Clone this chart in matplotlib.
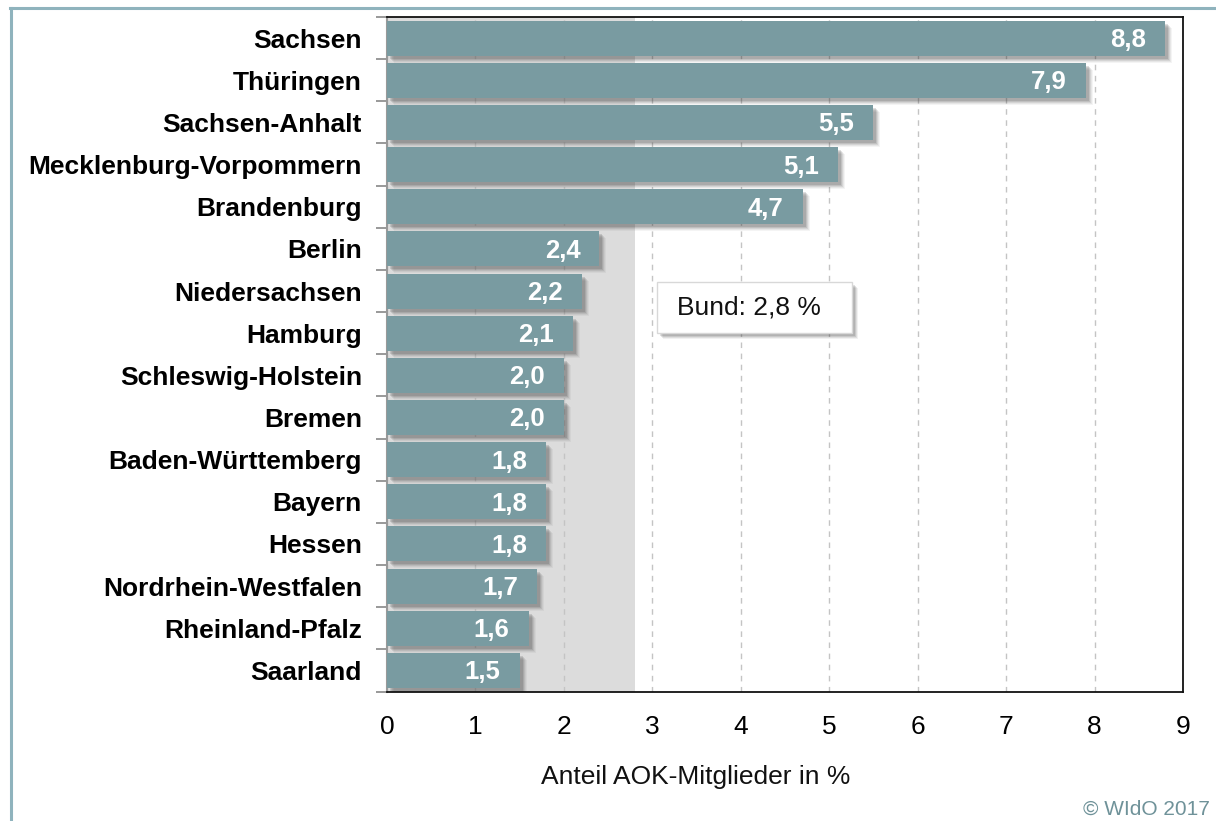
import matplotlib
matplotlib.use("Agg")
import matplotlib.pyplot as plt
from matplotlib.transforms import ScaledTranslation
from matplotlib.patches import Rectangle
from matplotlib.lines import Line2D

plt.rcParams['font.family'] = ['Liberation Sans', 'DejaVu Sans']

states = ["Sachsen", "Thüringen", "Sachsen-Anhalt", "Mecklenburg-Vorpommern",
          "Brandenburg", "Berlin", "Niedersachsen", "Hamburg", "Schleswig-Holstein",
          "Bremen", "Baden-Württemberg", "Bayern", "Hessen", "Nordrhein-Westfalen",
          "Rheinland-Pfalz", "Saarland"]
values = [8.8, 7.9, 5.5, 5.1, 4.7, 2.4, 2.2, 2.1, 2.0, 2.0, 1.8, 1.8, 1.8, 1.7, 1.6, 1.5]
bund = 2.8
xticks = list(range(0, 10))
xlabel = "Anteil AOK-Mitglieder in %"
bund_label = "Bund: 2,8 %"
credit = "© WIdO 2017"

W, H = 1216, 821
fig = plt.figure(figsize=(W / 100, H / 100), dpi=100)
ax = fig.add_axes([387 / W, 1 - 691.5 / H, (1183 - 387) / W, (691.5 - 17) / H])

bar_color = "#799ba1"
ypos = list(range(len(states)))
h = 0.83

# shaded average region
ax.axvspan(0, bund, color="#dcdcdc", zorder=0, lw=0)

# grid
ax.set_xticks(xticks)
ax.xaxis.grid(True, color="#c4c4c4", linestyle=(0, (4, 4)), linewidth=1, zorder=1)
ax.set_axisbelow(True)

# shadows (soft, offset down-right)
for d, a in [(7, 0.05), (6, 0.07), (5, 0.10), (4, 0.13), (3, 0.16)]:
    off = ScaledTranslation(d / 100, -d / 100, fig.dpi_scale_trans)
    ax.barh(ypos, values, height=h, color="#3a3a3a", alpha=a, lw=0,
            transform=ax.transData + off, zorder=2)

ax.barh(ypos, values, height=h, color=bar_color, lw=0, zorder=3)

for i, v in enumerate(values):
    ax.annotate(f"{v:.1f}".replace(".", ","), xy=(v, i), xytext=(-19, -2),
                textcoords="offset pixels", ha="right", va="center",
                color="white", fontweight="bold", fontsize=18.5, zorder=4)

ax.set_xlim(0, 9)
ax.set_ylim(len(states) - 0.5, -0.5)
ax.set_yticks(ypos)
ax.set_yticklabels(states, fontweight="bold", fontsize=19)
ax.set_yticks([i - 0.5 for i in range(len(states) + 1)], minor=True)
ax.tick_params(axis="y", which="major", length=0, pad=18)
ax.tick_params(axis="y", which="minor", length=8, color="#888888", width=1.2)
ax.tick_params(axis="x", length=0, pad=17, labelsize=19)

for s in ["top", "right", "bottom"]:
    ax.spines[s].set_color("#111111")
    ax.spines[s].set_linewidth(1.3)
ax.spines["left"].set_color("#999999")
ax.spines["left"].set_linewidth(1.5)

# Bund box
bx0, bx1 = 3.05, 5.26
by0, by1 = 5.79, 7.0
for d, a in [(6, 0.07), (5, 0.10), (4, 0.13), (3, 0.15)]:
    off = ScaledTranslation(d / 100, -d / 100, fig.dpi_scale_trans)
    ax.add_patch(Rectangle((bx0, by0), bx1 - bx0, by1 - by0, facecolor="#3a3a3a",
                           alpha=a, lw=0, transform=ax.transData + off, zorder=5))
ax.add_patch(Rectangle((bx0, by0), bx1 - bx0, by1 - by0, facecolor="white",
                       edgecolor="#d8d8d8", lw=1, zorder=6))
ax.text(bx0 + 0.225, (by0 + by1) / 2, bund_label, ha="left", va="center",
        fontsize=19, color="#111111", zorder=7)

fig.text(696 / W, 1 - 777 / H, xlabel, ha="center", va="center", fontsize=19,
         color="#111111")
fig.text(1210 / W, 1 - 809 / H, credit, ha="right", va="center", fontsize=15,
         color="#6f9299")

# outer frame lines
fig.add_artist(Line2D([10 / W, 1], [1 - 8 / H, 1 - 8 / H], color="#8fb3bd", lw=2.2,
                      transform=fig.transFigure))
fig.add_artist(Line2D([11 / W, 11 / W], [1 - 8 / H, 0], color="#8fb3bd", lw=2.2,
                      transform=fig.transFigure))

fig.savefig("out.png", dpi=100)
